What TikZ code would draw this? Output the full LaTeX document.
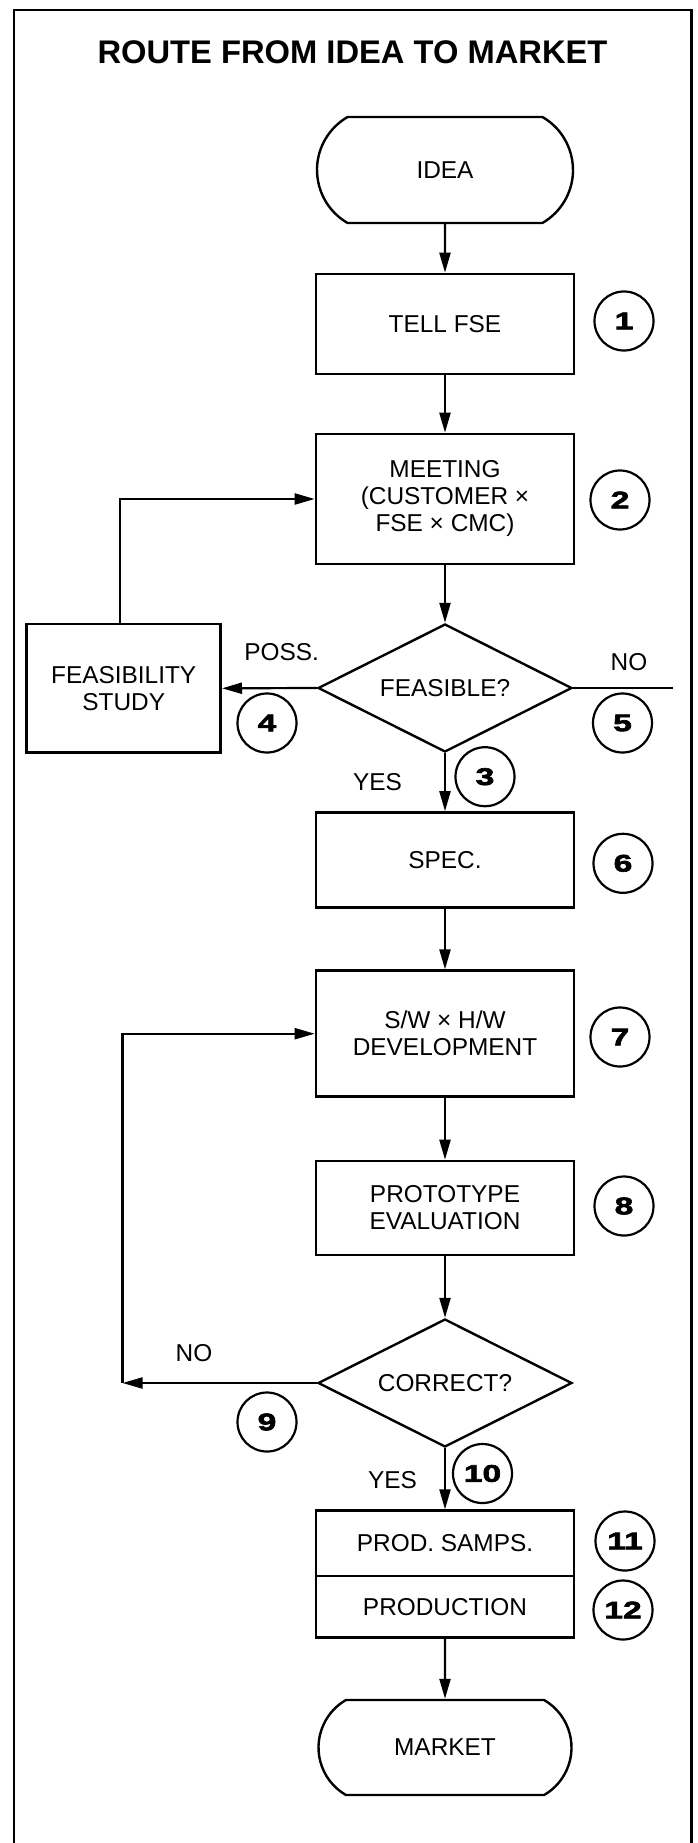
\documentclass[tikz,border=0pt]{standalone}
\usepackage{fontspec}
\setmainfont{Liberation Sans}
\newfontfamily\numfont[FakeBold=2.8,FakeStretch=1.4]{Liberation Sans Bold}
\usetikzlibrary{shapes.geometric,shapes.misc,arrows.meta}
\begin{document}
\begin{tikzpicture}[x=1pt,y=-1pt,
  every node/.style={font=\fontsize{24.4}{27}\selectfont, inner sep=0pt},
  box/.style={draw, line width=2.6pt, minimum width=258pt, align=center},
  term/.style={draw, line width=2.4pt, rounded rectangle, rounded rectangle arc length=120, minimum width=254pt, minimum height=100pt},
  dec/.style={draw, line width=2.4pt, diamond, aspect=2, minimum width=254pt, minimum height=128pt},
  num/.style={draw, circle, line width=2.2pt, minimum size=59pt, font=\numfont\fontsize{24}{24}\selectfont},
  arr/.style={line width=2.2pt, -{Triangle[length=20pt,width=11pt]}},
  ln/.style={line width=2.2pt}]
\useasboundingbox (0,0) rectangle (697,1843);
% frame
\draw[line width=2.4pt] (14,1843) -- (14,10) -- (691.5,10) -- (691.5,1843);
% title
\node (title) at (352.5,52.7) {\fontsize{32.7}{36}\selectfont\bfseries ROUTE FROM IDEA TO MARKET};
% nodes
\node[term, minimum width=256pt, minimum height=106pt] (idea) at (445,170) {IDEA};
\node[box, minimum height=100pt] (tell) at (445,324) {TELL FSE};
\node[num] (n1) at (624,321) {1};
\node[box, minimum height=130pt] (meet) at (445,499) {MEETING\\(CUSTOMER ×\\FSE × CMC)};
\node[num] (n2) at (620,500) {2};
\node[dec] (feas) at (445,688) {FEASIBLE?};
\node[box, minimum width=194pt, minimum height=128.7pt] (study) at (123.7,688.3) {FEASIBILITY\\STUDY};
\node (poss) at (281.7,651.7) {POSS.};
\node (no1) at (629,661.7) {NO};
\coordinate (noend) at (672.7,688);
\node[num] (n4) at (267,723) {4};
\node[num] (n5) at (622.5,723) {5};
\node[num] (n3) at (485,776.7) {3};
\node (yes1) at (377.5,781.7) {YES};
\node[box, minimum height=95pt] (spec) at (445,860) {SPEC.};
\node[num] (n6) at (623,863.3) {6};
\node[box, minimum height=126pt] (dev) at (445,1033.7) {S/W × H/W\\DEVELOPMENT};
\node[num] (n7) at (620,1037) {7};
\node[box, minimum height=94pt] (proto) at (445,1208) {PROTOTYPE\\EVALUATION};
\node[num] (n8) at (624,1206) {8};
\node[dec] (corr) at (445,1383) {CORRECT?};
\coordinate (back) at (122.5,1383);
\node (no2) at (194,1353) {NO};
\node[num] (n9) at (267,1422) {9};
\node[num] (n10) at (482.5,1473.5) {10};
\node (yes2) at (392.5,1480) {YES};
\node[box, minimum height=65.3pt] (samps) at (445,1543.3) {PROD. SAMPS.};
\node[box, minimum height=61.3pt] (prod) at (445,1606.7) {PRODUCTION};
\node[num] (n11) at (625,1541) {11};
\node[num] (n12) at (623,1610) {12};
\node[term, minimum width=253pt, minimum height=95pt] (market) at (445,1747.5) {MARKET};
% connectors
\draw[arr] (idea) -- (tell);
\draw[arr] (tell) -- (meet);
\draw[arr] (meet) -- (feas);
\draw[arr] (feas.west) -- (study.east);
\draw[ln] (feas.east) -- (noend);
\draw[arr] ([xshift=-4pt]study.north) |- (meet.west);
\draw[arr] (feas) -- (spec);
\draw[arr] (spec) -- (dev);
\draw[arr] (dev) -- (proto);
\draw[arr] (proto) -- (corr);
\draw[arr] (corr.west) -- (back);
\draw[arr] (back) |- (dev.west);
\draw[arr] (corr) -- (samps);
\draw[arr] (prod) -- (market);
\end{tikzpicture}
\end{document}
